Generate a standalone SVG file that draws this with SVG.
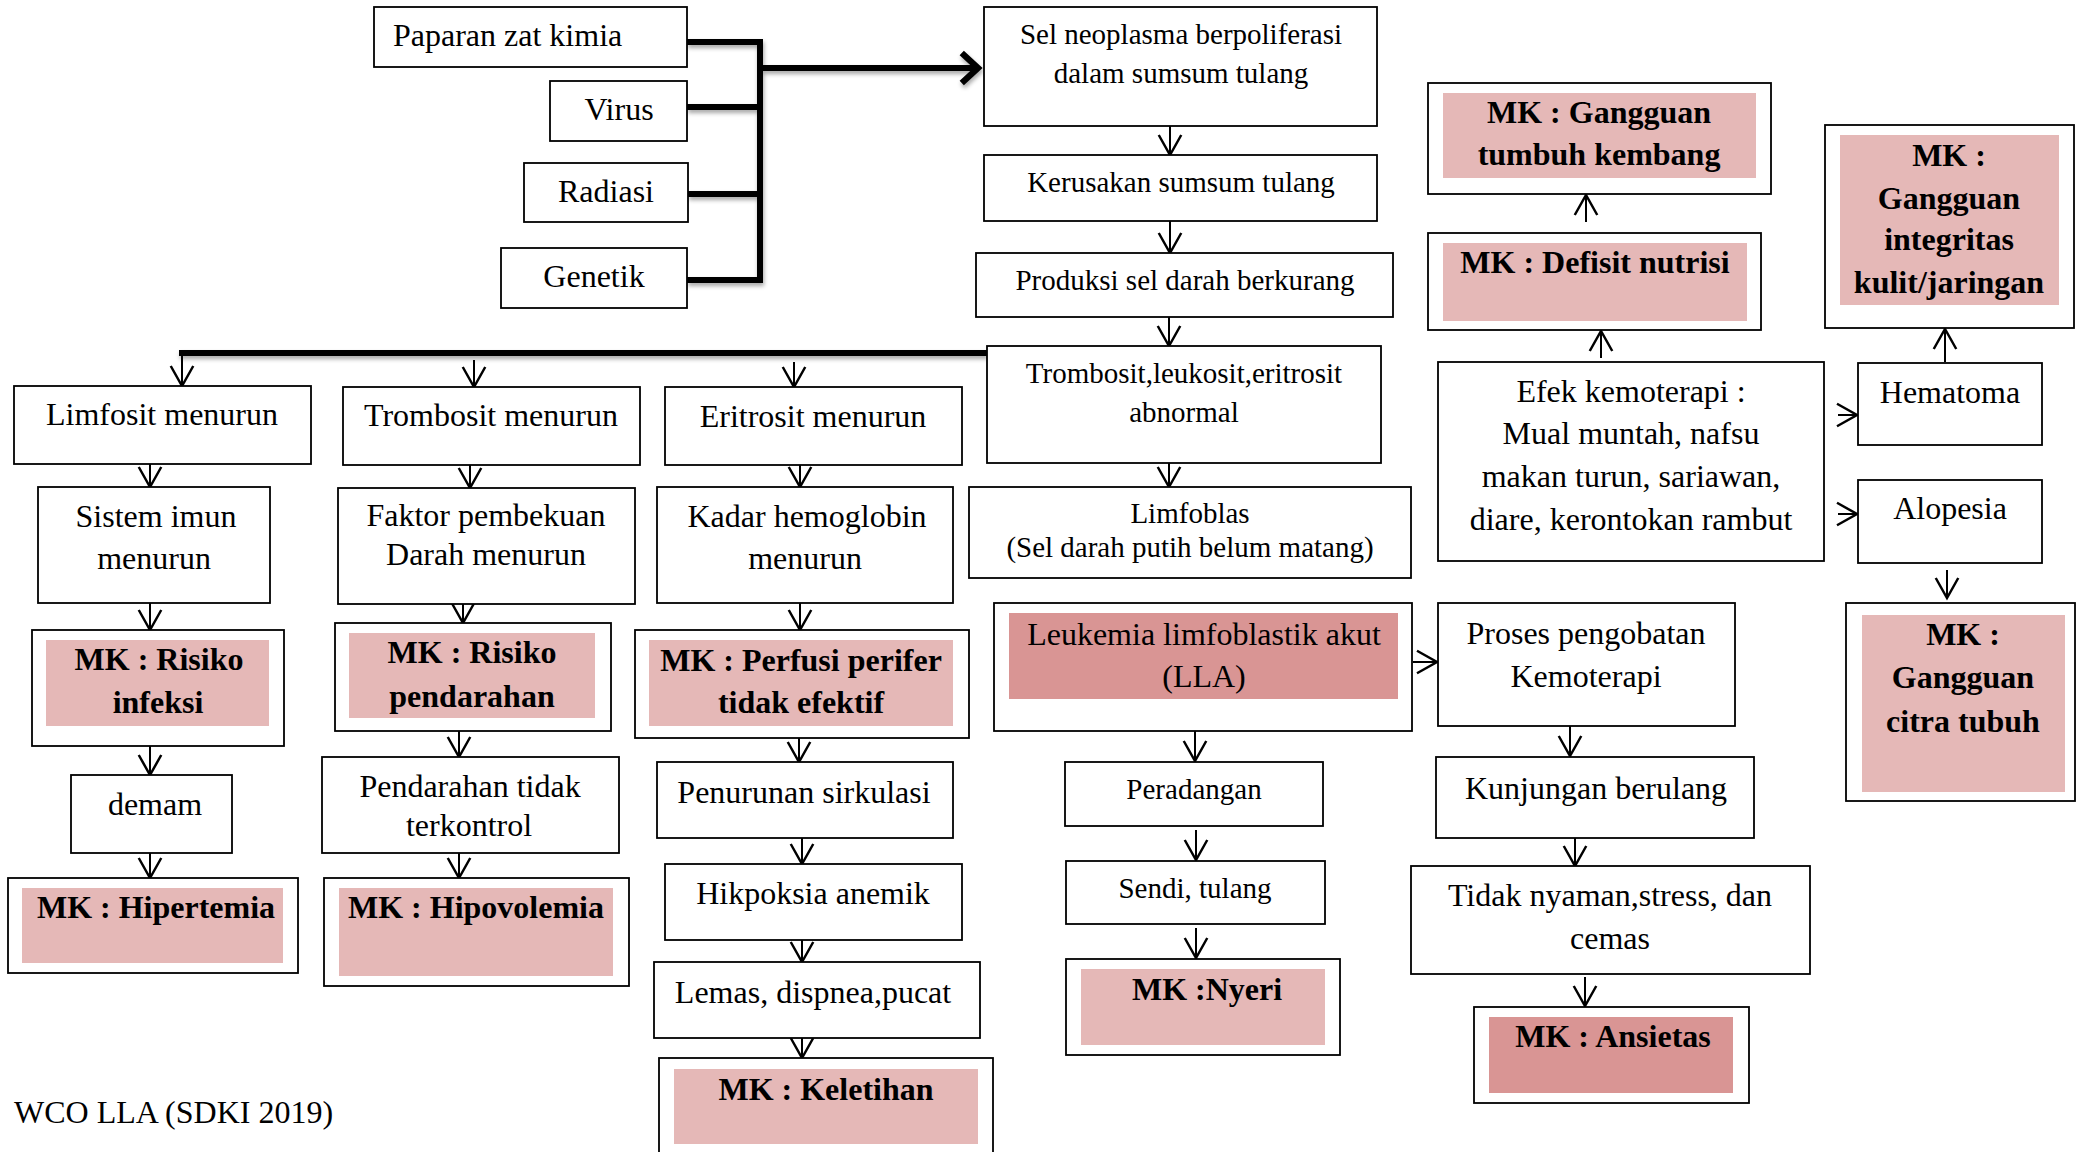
<svg xmlns="http://www.w3.org/2000/svg" width="2076" height="1152" viewBox="0 0 2076 1152">
<style>
.box{fill:#fff;stroke:#000;stroke-width:1.8}
.pk{fill:#E5B8B7}
.pk2{fill:#D99594}
text{font-family:"Liberation Serif","Times New Roman",serif;font-size:32px;fill:#000;text-anchor:middle}
.s{font-size:29px}
.b{font-weight:bold}
.st{text-anchor:start}
.c{stroke:#000;stroke-width:2;fill:none;marker-end:url(#arr)}
.tk{stroke:#000;stroke-width:6;fill:none}
</style>
<defs>
<marker id="arr" markerUnits="userSpaceOnUse" markerWidth="30" markerHeight="30" viewBox="-20 -12 24 24" refX="0" refY="0" orient="auto">
<path d="M-16,-9 L0,0 L-16,9" fill="none" stroke="#000" stroke-width="2"/>
</marker>
<marker id="arrT" markerUnits="userSpaceOnUse" markerWidth="40" markerHeight="40" viewBox="-20 -16 26 32" refX="0" refY="0" orient="auto">
<path d="M-13,-12 L0,0 L-13,12" fill="none" stroke="#000" stroke-width="5"/>
</marker>
<filter id="sh" x="-5%" y="-20%" width="110%" height="160%">
<feDropShadow dx="1" dy="3" stdDeviation="2" flood-color="#000" flood-opacity="0.35"/>
</filter>
</defs>
<rect width="2076" height="1152" fill="#fff"/>

<g id="connectors">
<g filter="url(#sh)">
<path class="tk" d="M687,42 H760 M687,107 H760 M688,194 H760 M687,280 H760 M760,39 V283"/>
<path class="tk" d="M760,68 H978" marker-end="url(#arrT)"/>
<path class="tk" d="M987,353 H179"/>
</g>
<path class="c" d="M182,353 V386"/>
<path class="c" d="M474,360 V387"/>
<path class="c" d="M794,362 V387"/>
<path class="c" d="M1170,126 V155"/>
<path class="c" d="M1170,221 V253"/>
<path class="c" d="M1169,317 V346"/>
<path class="c" d="M150,460 V487"/>
<path class="c" d="M470,458 V488"/>
<path class="c" d="M800,463 V487"/>
<path class="c" d="M150,603 V630"/>
<path class="c" d="M463,592 V623"/>
<path class="c" d="M800,600 V630"/>
<path class="c" d="M150,746 V775"/>
<path class="c" d="M459,731 V757"/>
<path class="c" d="M799,738 V762"/>
<path class="c" d="M150,852 V878"/>
<path class="c" d="M459,849 V878"/>
<path class="c" d="M802,833 V864"/>
<path class="c" d="M802,940 V962"/>
<path class="c" d="M802,1027 V1058"/>
<path class="c" d="M1169,460 V487"/>
<path class="c" d="M1413,662 H1437"/>
<path class="c" d="M1195,731 V761"/>
<path class="c" d="M1196,830 V860"/>
<path class="c" d="M1196,928 V958"/>
<path class="c" d="M1570,724 V756"/>
<path class="c" d="M1575,838 V866"/>
<path class="c" d="M1585,977 V1006"/>
<path class="c" d="M1601,358 V331"/>
<path class="c" d="M1586,222 V195"/>
<path class="c" d="M1945,362 V329"/>
<path class="c" d="M1838,415 H1857"/>
<path class="c" d="M1838,514 H1857"/>
<path class="c" d="M1947,570 V598"/>
</g>

<g id="paparan"><rect class="box" x="374" y="7" width="313" height="60"/><text class="st" x="393" y="46">Paparan zat kimia</text></g>
<g id="virus"><rect class="box" x="550" y="81" width="137" height="60"/><text x="619" y="120">Virus</text></g>
<g id="radiasi"><rect class="box" x="524" y="163" width="164" height="59"/><text x="606" y="202">Radiasi</text></g>
<g id="genetik"><rect class="box" x="501" y="248" width="186" height="60"/><text x="594" y="287">Genetik</text></g>

<g id="sel-neoplasma"><rect class="box" x="984" y="7" width="393" height="119"/><text class="s" x="1181" y="44">Sel neoplasma berpoliferasi</text><text class="s" x="1181" y="83">dalam sumsum tulang</text></g>
<g id="kerusakan"><rect class="box" x="984" y="155" width="393" height="66"/><text class="s" x="1181" y="192">Kerusakan sumsum tulang</text></g>
<g id="produksi"><rect class="box" x="976" y="253" width="417" height="64"/><text class="s" x="1185" y="290">Produksi sel darah berkurang</text></g>
<g id="trombosit-leukosit"><rect class="box" x="987" y="346" width="394" height="117"/><text class="s" x="1184" y="383">Trombosit,leukosit,eritrosit</text><text class="s" x="1184" y="422">abnormal</text></g>
<g id="limfoblas"><rect class="box" x="969" y="487" width="442" height="91"/><text class="s" x="1190" y="523">Limfoblas</text><text class="s" x="1190" y="557">(Sel darah putih belum matang)</text></g>
<g id="leukemia"><rect class="box" x="994" y="603" width="418" height="128"/><rect class="pk2" x="1009" y="613" width="389" height="86"/><text x="1204" y="645">Leukemia limfoblastik akut</text><text x="1204" y="687">(LLA)</text></g>
<g id="peradangan"><rect class="box" x="1065" y="762" width="258" height="64"/><text class="s" x="1194" y="799">Peradangan</text></g>
<g id="sendi"><rect class="box" x="1066" y="861" width="259" height="63"/><text class="s" x="1195" y="898">Sendi, tulang</text></g>
<g id="mk-nyeri"><rect class="box" x="1066" y="959" width="274" height="96"/><rect class="pk" x="1081" y="969" width="244" height="76"/><text class="b" x="1207" y="1000">MK :Nyeri</text></g>

<g id="mk-tumbuh"><rect class="box" x="1428" y="83" width="343" height="111"/><rect class="pk" x="1443" y="93" width="313" height="85"/><text class="b" x="1599" y="123">MK : Gangguan</text><text class="b" x="1599" y="165">tumbuh kembang</text></g>
<g id="mk-defisit"><rect class="box" x="1428" y="233" width="333" height="97"/><rect class="pk" x="1443" y="243" width="304" height="78"/><text class="b" x="1595" y="273">MK : Defisit nutrisi</text></g>
<g id="efek"><rect class="box" x="1438" y="362" width="386" height="199"/><text x="1631" y="402">Efek kemoterapi :</text><text x="1631" y="444">Mual muntah, nafsu</text><text x="1631" y="487">makan turun, sariawan,</text><text x="1631" y="530">diare, kerontokan rambut</text></g>
<g id="proses"><rect class="box" x="1438" y="603" width="297" height="123"/><text x="1586" y="644">Proses pengobatan</text><text x="1586" y="687">Kemoterapi</text></g>
<g id="kunjungan"><rect class="box" x="1436" y="757" width="318" height="81"/><text x="1596" y="799">Kunjungan berulang</text></g>
<g id="tidak-nyaman"><rect class="box" x="1411" y="866" width="399" height="108"/><text x="1610" y="906">Tidak nyaman,stress, dan</text><text x="1610" y="949">cemas</text></g>
<g id="mk-ansietas"><rect class="box" x="1474" y="1007" width="275" height="96"/><rect class="pk2" x="1489" y="1017" width="244" height="76"/><text class="b" x="1613" y="1047">MK : Ansietas</text></g>

<g id="mk-integritas"><rect class="box" x="1825" y="125" width="249" height="203"/><rect class="pk" x="1840" y="135" width="219" height="170"/><text class="b" x="1949" y="166">MK :</text><text class="b" x="1949" y="209">Gangguan</text><text class="b" x="1949" y="250">integritas</text><text class="b" x="1949" y="293">kulit/jaringan</text></g>
<g id="hematoma"><rect class="box" x="1858" y="363" width="184" height="82"/><text x="1950" y="403">Hematoma</text></g>
<g id="alopesia"><rect class="box" x="1858" y="480" width="184" height="83"/><text x="1950" y="519">Alopesia</text></g>
<g id="mk-citra"><rect class="box" x="1846" y="603" width="229" height="198"/><rect class="pk" x="1862" y="615" width="203" height="177"/><text class="b" x="1963" y="645">MK :</text><text class="b" x="1963" y="688">Gangguan</text><text class="b" x="1963" y="732">citra tubuh</text></g>

<g id="limfosit"><rect class="box" x="14" y="386" width="297" height="78"/><text x="162" y="425">Limfosit menurun</text></g>
<g id="trombosit"><rect class="box" x="343" y="387" width="297" height="78"/><text x="491" y="426">Trombosit menurun</text></g>
<g id="eritrosit"><rect class="box" x="665" y="387" width="297" height="78"/><text x="813" y="427">Eritrosit menurun</text></g>
<g id="sistem-imun"><rect class="box" x="38" y="487" width="232" height="116"/><text x="156" y="527">Sistem imun</text><text x="154" y="569">menurun</text></g>
<g id="faktor"><rect class="box" x="338" y="488" width="297" height="116"/><text x="486" y="526">Faktor pembekuan</text><text x="486" y="565">Darah menurun</text></g>
<g id="kadar"><rect class="box" x="657" y="487" width="296" height="116"/><text x="807" y="527">Kadar hemoglobin</text><text x="805" y="569">menurun</text></g>
<g id="mk-infeksi"><rect class="box" x="32" y="630" width="252" height="116"/><rect class="pk" x="46" y="640" width="223" height="86"/><text class="b" x="159" y="670">MK : Risiko</text><text class="b" x="158" y="713">infeksi</text></g>
<g id="mk-pendarahan"><rect class="box" x="335" y="623" width="276" height="108"/><rect class="pk" x="349" y="633" width="246" height="85"/><text class="b" x="472" y="663">MK : Risiko</text><text class="b" x="472" y="707">pendarahan</text></g>
<g id="mk-perfusi"><rect class="box" x="635" y="630" width="334" height="108"/><rect class="pk" x="649" y="640" width="304" height="86"/><text class="b" x="801" y="671">MK : Perfusi perifer</text><text class="b" x="801" y="713">tidak efektif</text></g>
<g id="demam"><rect class="box" x="71" y="775" width="161" height="78"/><text x="155" y="815">demam</text></g>
<g id="pendarahan"><rect class="box" x="322" y="757" width="297" height="96"/><text x="470" y="797">Pendarahan tidak</text><text x="469" y="836">terkontrol</text></g>
<g id="penurunan"><rect class="box" x="657" y="762" width="296" height="76"/><text x="804" y="803">Penurunan sirkulasi</text></g>
<g id="mk-hipertemia"><rect class="box" x="8" y="878" width="290" height="95"/><rect class="pk" x="22" y="888" width="261" height="75"/><text class="b" x="156" y="918">MK : Hipertemia</text></g>
<g id="mk-hipovolemia"><rect class="box" x="324" y="878" width="305" height="108"/><rect class="pk" x="339" y="888" width="274" height="88"/><text class="b" x="476" y="918">MK : Hipovolemia</text></g>
<g id="hikpoksia"><rect class="box" x="665" y="864" width="297" height="76"/><text x="813" y="904">Hikpoksia anemik</text></g>
<g id="lemas"><rect class="box" x="654" y="962" width="326" height="76"/><text x="813" y="1003">Lemas, dispnea,pucat</text></g>
<g id="mk-keletihan"><rect class="box" x="659" y="1058" width="334" height="110"/><rect class="pk" x="674" y="1069" width="304" height="75"/><text class="b" x="826" y="1100">MK : Keletihan</text></g>

<text class="st" x="14" y="1123">WCO LLA (SDKI 2019)</text>
</svg>
